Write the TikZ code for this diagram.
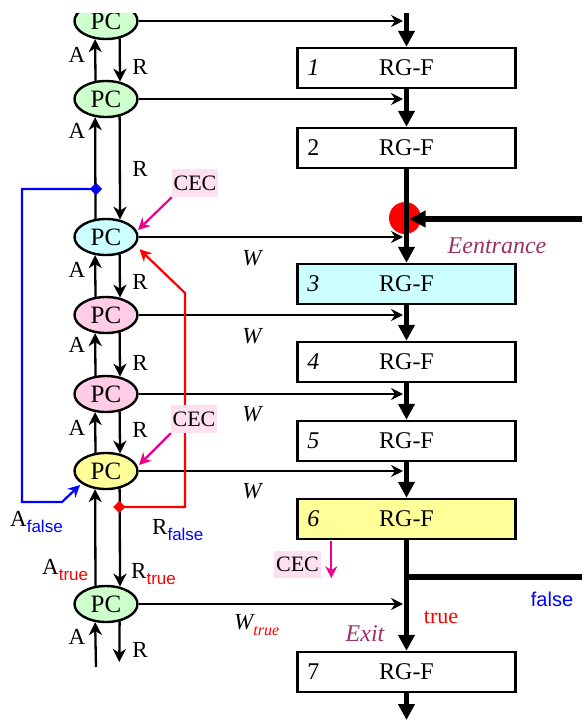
\documentclass[tikz,border=0pt]{standalone}
\usepackage{fontspec}
\setmainfont{Liberation Serif}
\newfontfamily\sansf{Liberation Sans}
\usetikzlibrary{arrows.meta,shapes.geometric,calc}
\definecolor{pcgreen}{HTML}{CCFFCC}
\definecolor{pccyan}{HTML}{CCFFFF}
\definecolor{pcpink}{HTML}{FFCCE6}
\definecolor{pcyellow}{HTML}{FFFF99}
\definecolor{cecbg}{HTML}{FFE0F0}
\definecolor{lblpurple}{HTML}{993366}
\newcommand{\lbsub}[2]{\raisebox{-0.3em}{\sansf\fontsize{17}{17}\selectfont\color{#1}#2}}
\begin{document}
\begin{tikzpicture}[x=1pt,y=-1pt,
 pc/.style={ellipse,draw,line width=2.4pt,minimum width=63pt,minimum height=36pt,inner sep=0pt,font=\fontsize{25}{25}\selectfont},
 rg/.style={draw,line width=2.4pt,minimum width=218pt,minimum height=40pt,inner sep=0pt,font=\fontsize{24}{24}\selectfont},
 num/.style={font=\fontsize{24}{24}\selectfont},
 thinar/.style={line width=1.8pt,-{Stealth[length=12pt,width=12pt,inset=4pt]}},
 ar/.style={line width=2.3pt,-{Stealth[length=13pt,width=13pt,inset=4pt]}},
 thickar/.style={line width=5.5pt,-{Triangle[length=16pt,width=16pt]}},
 lbl/.style={font=\fontsize{23}{23}\selectfont},
 wl/.style={font=\fontsize{23}{23}\selectfont\itshape},
 cec/.style={fill=cecbg,inner sep=0pt,minimum width=46pt,minimum height=28pt,font=\fontsize{22}{22}\selectfont},
 mg/.style={magenta,line width=2.2pt,-{Stealth[length=12pt,width=12pt,inset=4pt]}},
 dia/.style={diamond,fill=#1,inner sep=0pt,minimum size=12pt},
]
\useasboundingbox (0,0) rectangle (582,720);
\begin{scope}
\clip (0,13) rectangle (582,720);
% PC nodes
\node[pc,fill=pcgreen]  (pc1) at (106,21)  {PC};
\node[pc,fill=pcgreen]  (pc2) at (106,99)  {PC};
\node[pc,fill=pccyan]   (pc3) at (106,237) {PC};
\node[pc,fill=pcpink]   (pc4) at (106,315) {PC};
\node[pc,fill=pcpink]   (pc5) at (106,394) {PC};
\node[pc,fill=pcyellow] (pc6) at (106,471) {PC};
\node[pc,fill=pcgreen]  (pc7) at (106,604) {PC};
% RG-F boxes
\node[rg]               (b1) at (406.5,68)  {RG-F};
\node[rg]               (b2) at (406.5,148) {RG-F};
\node[rg,fill=pccyan]   (b3) at (406.5,284) {RG-F};
\node[rg]               (b4) at (406.5,362) {RG-F};
\node[rg]               (b5) at (406.5,441) {RG-F};
\node[rg,fill=pcyellow] (b6) at (406.5,519) {RG-F};
\node[rg]               (b7) at (406.5,672) {RG-F};
\node[num] at ($(b1.west)+(17,0)$) {\itshape 1};
\node[num] at ($(b2.west)+(17,0)$) {2};
\node[num] at ($(b3.west)+(17,0)$) {\itshape 3};
\node[num] at ($(b4.west)+(17,0)$) {\itshape 4};
\node[num] at ($(b5.west)+(17,0)$) {\itshape 5};
\node[num] at ($(b6.west)+(17,0)$) {\itshape 6};
\node[num] at ($(b7.west)+(17,0)$) {7};
% entrance circle
\node[circle,fill=red,minimum size=32pt,inner sep=0pt] (ent) at (405,218) {};
% thick spine
\coordinate (top) at (406.5,0);
\coordinate (bot) at (406.5,720);
\draw[thickar] (top) -- (b1.north);
\draw[thickar] (b1.south) -- (b2.north);
\draw[thickar] (b2.south) -- (b3.north);
\draw[thickar] (b3.south) -- (b4.north);
\draw[thickar] (b4.south) -- (b5.north);
\draw[thickar] (b5.south) -- (b6.north);
\draw[thickar] (b6.south) -- (b7.north);
\draw[thickar] (b7.south) -- (bot);
\coordinate (eR) at (582,219);
\coordinate (eT) at (409.5,219);
\draw[thickar] (eR) -- (eT);
\coordinate (br) at (406.5,577);
\coordinate (brR) at (582,577);
\draw[line width=5.5pt] (br) -- (brR);
% W lines
\foreach \p/\b in {pc1/b1,pc2/b2,pc3/b3,pc4/b4,pc5/b5,pc6/b6,pc7/b7}
  \draw[thinar] (\p.east) -- ($(\p.east -| \b.center)+(-3.5,0)$);
% A / R arrows
\foreach \u/\l in {pc1/pc2,pc2/pc3,pc3/pc4,pc4/pc5,pc5/pc6,pc6/pc7}{
  \draw[ar] (\l.120.5) -- (\u.239.5);
  \draw[ar] (\u.308.6) -- (\l.51.4);
}
\coordinate (ab) at (96,667);
\coordinate (rb) at (119.3,662);
\draw[ar] (ab) -- (pc7.239.5);
\draw[ar] (pc7.308.6) -- (rb);
% blue feedback
\node[dia=blue] (bd) at (96,189) {};
\draw[blue,line width=2.2pt,-{Stealth[length=12pt,width=12pt,inset=4pt]}]
  (bd.center) -- (22,189) -- (22,502) -- (62,502) -- ($(pc6.center)+(-26,14)$);
\node[dia=blue] at (96,189) {};
% red feedback
\node[dia=red] (rd) at (119.3,507) {};
\draw[red,line width=2.2pt,-{Stealth[length=12pt,width=12pt,inset=4pt]}]
  (rd.center) -- (185,507) -- (185,293) -- ($(pc3.center)+(33.5,12.3)$);
\node[dia=red] at (119.3,507) {};
% CEC
\node[cec] (cec1) at (195,183) {CEC};
\node[cec] (cec2) at (194,419) {CEC};
\node[cec,minimum width=47pt,minimum height=27pt] (cec3) at (297.5,564.5) {CEC};
\draw[mg] (cec1.south west) -- ($(pc3.center)+(32,-7)$);
\draw[mg] (cec2.south west) -- ($(pc6.center)+(33,-6)$);
\coordinate (c3s) at ($(b6.south west)+(35,1)$);
\coordinate (c3e) at ($(b6.south west)+(35,38)$);
\draw[mg] (c3s) -- (c3e);
% A / R labels
\foreach \y in {55,131,270,345,428,637} \node[lbl] at (77,\y) {A};
\foreach \y in {67,169,282,363,430,650} \node[lbl] at (140,\y) {R};
\node[lbl,anchor=base west,inner sep=0pt] at (10,526) {A\lbsub{blue}{false}};
\node[lbl,anchor=base west,inner sep=0pt] at (152,534) {R\lbsub{blue}{false}};
\node[lbl,anchor=base west,inner sep=0pt] at (42,574) {A\lbsub{red}{true}};
\node[lbl,anchor=base west,inner sep=0pt] at (131,578) {R\lbsub{red}{true}};
% W labels
\foreach \y in {258,336,414,491} \node[wl] at (252,\y) {W};
\node[wl,anchor=base west,inner sep=0pt] at (234,629) {W\raisebox{-0.3em}{\fontsize{16}{16}\selectfont\color{red}true}};
% other labels
\node[font=\fontsize{24}{24}\selectfont\itshape,text=lblpurple] at (497,246) {Eentrance};
\node[font=\fontsize{24}{24}\selectfont\itshape,text=lblpurple] at (365,634) {Exit};
\node[font=\fontsize{22}{22}\selectfont,text=red] at (441,617) {true};
\node[font=\fontsize{20}{20}\selectfont\sansf,text=blue] at (552,599) {false};
\end{scope}
\end{tikzpicture}
\end{document}
